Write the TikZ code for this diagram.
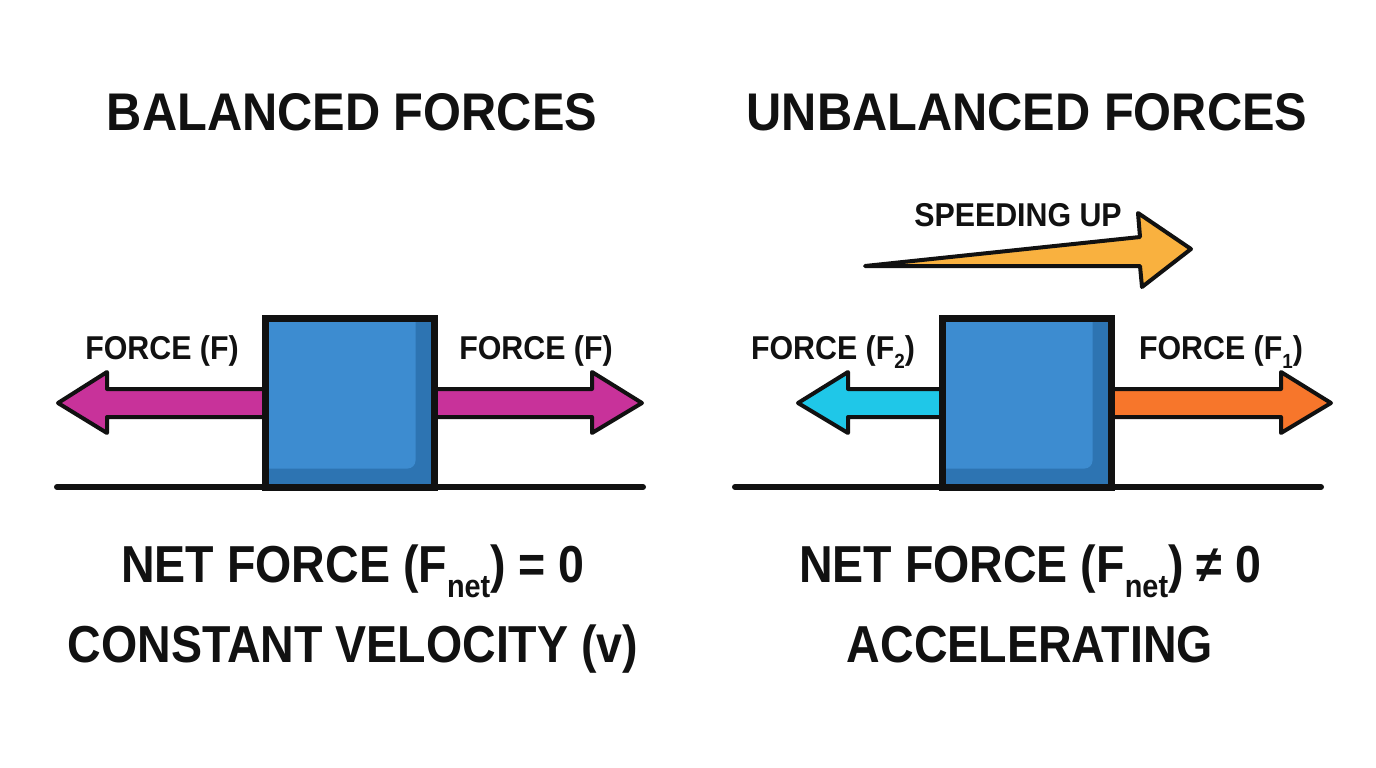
\documentclass[tikz,border=0pt]{standalone}
\usepackage{fontspec}
\setmainfont{Liberation Sans}[FakeStretch=0.92]
\newfontfamily\narrowfont{Liberation Sans}[FakeStretch=0.895]
\usepackage{graphicx}
\newcommand\subx[1]{\raisebox{-0.3em}{\scalebox{0.62}{#1}}}
\definecolor{magf}{HTML}{C8329A}
\definecolor{bluel}{HTML}{3D8CD0}
\definecolor{blued}{HTML}{2D74B2}
\definecolor{cyanf}{HTML}{1FC7E8}
\definecolor{orangef}{HTML}{F7762B}
\definecolor{yelf}{HTML}{F9B13F}
\definecolor{ink}{HTML}{111111}
\tikzset{
  titletxt/.style={anchor=base, inner sep=0, font=\fontsize{53}{60}\selectfont\bfseries, text=ink},
  bigtxt/.style={anchor=base, inner sep=0, font=\narrowfont\fontsize{52}{60}\selectfont\bfseries, text=ink},
  lbltxt/.style={anchor=base, inner sep=0, font=\fontsize{33}{40}\selectfont\bfseries, text=ink},
  arrowshape/.style={draw=ink, line width=4pt, line join=round},
  blockbox/.style={draw=ink, fill=blued, line width=6.5pt, outer sep=0, inner sep=0, minimum width=169pt, minimum height=169pt},
  groundline/.style={draw=ink, line width=6pt, line cap=round}
}
\begin{document}
\begin{tikzpicture}[x=1pt,y=-1pt]
\useasboundingbox[fill=white] (0,0) rectangle (1376,768);

% ---------- titles ----------
\node[titletxt] (t1) at (352,130) {BALANCED FORCES};
\node[titletxt] (t2) at (1027,130) {UNBALANCED FORCES};

% ---------- left panel ----------
\draw[arrowshape, fill=magf] (300,389) -- (107,389) -- (107,372) -- (58,403) -- (107,433) -- (107,417) -- (300,417) -- cycle;
\draw[arrowshape, fill=magf] (400,389) -- (592,389) -- (592,372) -- (642,403) -- (592,433) -- (592,417) -- (400,417) -- cycle;
\node[blockbox] (b1) at (350,403) {};
\begin{scope}
  \clip ([xshift=2pt,yshift=-2pt]b1.north west) rectangle ([xshift=-19pt,yshift=19pt]b1.south east);
  \fill[bluel, rounded corners=8pt] ([xshift=-30pt,yshift=30pt]b1.north west) rectangle ([xshift=-19pt,yshift=19pt]b1.south east);
\end{scope}
\draw[line width=6.5pt, draw=ink, line join=round] (b1.north west) rectangle (b1.south east);
\draw[groundline] (57,487) -- (643,487);
\node[lbltxt] (l1) at (162,359) {FORCE (F)};
\node[lbltxt] (r1) at (536,359) {FORCE (F)};
\node[bigtxt] (n1) at (353,582) {NET FORCE (F\subx{net}) = 0};
\node[bigtxt] (c1) at (353,662) {CONSTANT VELOCITY (v)};

% ---------- right panel ----------
\draw[arrowshape, fill=yelf] (865,266) -- (1140,237) -- (1138,213) -- (1191,249) -- (1142,287) -- (1140,266) -- cycle;
\node[lbltxt] (su) at (1018,226) {SPEEDING UP};
\draw[arrowshape, fill=cyanf] (980,389) -- (848,389) -- (848,372) -- (798,403) -- (848,433) -- (848,417) -- (980,417) -- cycle;
\draw[arrowshape, fill=orangef] (1080,389) -- (1281,389) -- (1281,372) -- (1331,403) -- (1281,433) -- (1281,417) -- (1080,417) -- cycle;
\node[blockbox] (b2) at (1027,403) {};
\begin{scope}
  \clip ([xshift=2pt,yshift=-2pt]b2.north west) rectangle ([xshift=-19pt,yshift=19pt]b2.south east);
  \fill[bluel, rounded corners=8pt] ([xshift=-30pt,yshift=30pt]b2.north west) rectangle ([xshift=-19pt,yshift=19pt]b2.south east);
\end{scope}
\draw[line width=6.5pt, draw=ink, line join=round] (b2.north west) rectangle (b2.south east);
\draw[groundline] (735,487) -- (1321,487);
\node[lbltxt] (l2) at (833,359) {FORCE (F\subx{2})};
\node[lbltxt] (r2) at (1221,359) {FORCE (F\subx{1})};
\node[bigtxt] (n2) at (1030,582) {NET FORCE (F\subx{net}) ≠ 0};
\node[bigtxt] (c2) at (1030,662) {ACCELERATING};
\end{tikzpicture}
\end{document}
